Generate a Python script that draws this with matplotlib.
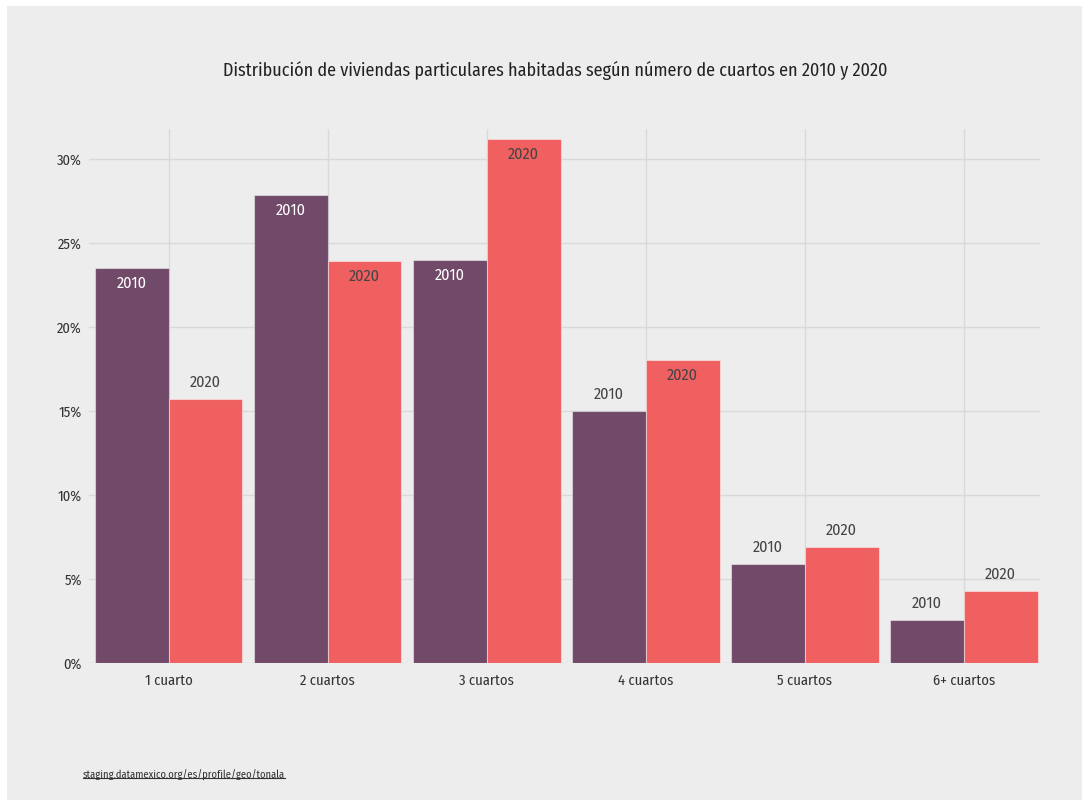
import matplotlib.pyplot as plt
import matplotlib.patches as mpatches
import matplotlib.lines as mlines
import numpy as np

categorias = ['1 cuarto', '2 cuartos', '3 cuartos', '4 cuartos', '5 cuartos', '6+ cuartos']
pct_2010 = [23.55, 27.86, 24.0, 15.01, 5.88, 2.58]
pct_2020 = [15.74, 23.92, 31.19, 18.06, 6.89, 4.29]
yticks = [0, 5, 10, 15, 20, 25, 30]

morado = '#714a69'
rojo = '#f06061'
fondo = '#ededed'
texto = '#333333'

plt.rcParams['font.family'] = ['Fira Sans Condensed', 'DejaVu Sans']

fig = plt.figure(figsize=(10.89, 8.05), dpi=100, facecolor='white')
# panel gris detras de todo
fig.patches.append(mpatches.Rectangle((7 / 1089, 5 / 805), 1075 / 1089, 794 / 805,
                                      transform=fig.transFigure, facecolor=fondo,
                                      edgecolor='none', zorder=-10))

ax = fig.add_axes([89 / 1089, 1 - 663 / 805, (1040 - 89) / 1089, (663 - 129) / 805])
ax.set_facecolor(fondo)

x = np.arange(len(categorias))
w = 0.465
b1 = ax.bar(x - w / 2, pct_2010, w, color=morado, edgecolor=(1, 1, 1, 0.45), linewidth=0.8, zorder=3)
b2 = ax.bar(x + w / 2, pct_2020, w, color=rojo, edgecolor=(1, 1, 1, 0.45), linewidth=0.8, zorder=3)

ax.set_xlim(-0.5, 5.48)
ax.set_ylim(0, 31.8)
ax.set_yticks(yticks)
ax.set_yticklabels([f'{t}%' for t in yticks])
ax.set_xticks(x)
ax.set_xticklabels(categorias)
ax.tick_params(length=0, colors=texto, labelsize=10.5)
ax.tick_params(axis='y', pad=5)
ax.tick_params(axis='x', pad=8)
ax.grid(True, color='#d9d9d9', linewidth=1.0, zorder=0)
for s in ax.spines.values():
    s.set_visible(False)

# etiquetas de año: dentro de la barra si es alta, encima si no
for barras, anio, color_in in [(b1, '2010', 'white'), (b2, '2020', '#444444')]:
    for r in barras:
        h = r.get_height()
        cx = r.get_x() + r.get_width() / 2
        if h > 17:
            ax.annotate(anio, (cx, h), xytext=(0, -11), textcoords='offset points',
                        ha='center', va='center', color=color_in, fontsize=11.5, zorder=4)
        else:
            ax.annotate(anio, (cx, h), xytext=(0, 12), textcoords='offset points',
                        ha='center', va='center', color='#444444', fontsize=11.5, zorder=4)

fig.text(555 / 1089, 1 - 70 / 805,
         'Distribución de viviendas particulares habitadas según número de cuartos en 2010 y 2020',
         ha='center', va='center', fontsize=13, color='#222222')

src = fig.text(83 / 1089, 1 - 775 / 805, 'staging.datamexico.org/es/profile/geo/tonala',
               ha='left', va='center', fontsize=7.6, color='#333333')
fig.canvas.draw()
bb = src.get_window_extent().transformed(fig.transFigure.inverted())
fig.lines.append(mlines.Line2D([bb.x0, bb.x1], [bb.y0 + 0.003, bb.y0 + 0.003],
                               transform=fig.transFigure, color='#333333', linewidth=0.8))

fig.savefig('out.png', dpi=100, facecolor='white')
